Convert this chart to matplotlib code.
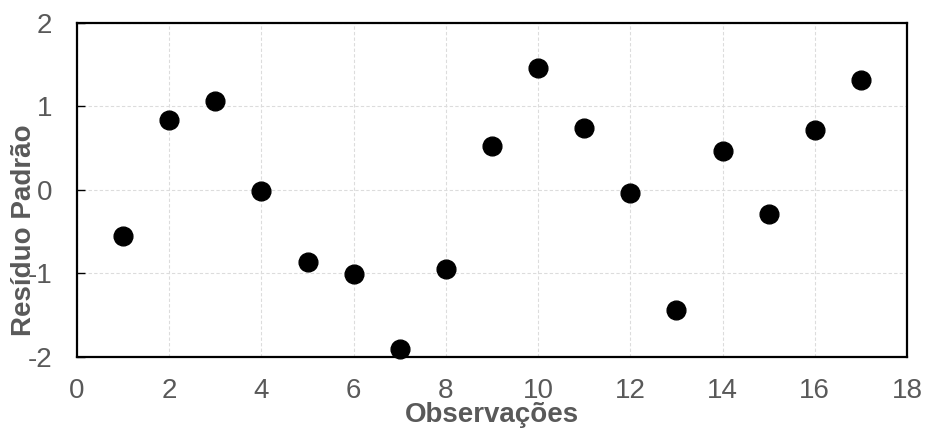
import matplotlib.pyplot as plt

obs = [1, 2, 3, 4, 5, 6, 7, 8, 9, 10, 11, 12, 13, 14, 15, 16, 17]
residuo = [-0.55, 0.84, 1.06, -0.01, -0.86, -1.01, -1.91, -0.95, 0.52,
           1.46, 0.74, -0.04, -1.44, 0.46, -0.29, 0.71, 1.31]
xticks = [0, 2, 4, 6, 8, 10, 12, 14, 16, 18]
yticks = [-2, -1, 0, 1, 2]

plt.rcParams['font.family'] = ['Liberation Sans', 'DejaVu Sans']
plt.rcParams['axes.unicode_minus'] = False
gray = '#595959'

fig = plt.figure(figsize=(9.26, 4.32), dpi=100)
ax = fig.add_axes([0.0832, 0.1736, 0.8963, 0.7743])

ax.plot(obs, residuo, 'o', color='black', markersize=13.5, zorder=5, clip_on=False)

ax.set_xlim(0, 18)
ax.set_ylim(-2, 2)
ax.set_xticks(xticks)
ax.set_yticks(yticks)
ax.grid(True, color='#dcdcdc', linestyle=(0, (3, 2)), linewidth=0.8)
ax.set_axisbelow(True)

for s in ax.spines.values():
    s.set_linewidth(1.6)
    s.set_color('black')

ax.tick_params(axis='x', length=0, pad=15, labelsize=20, labelcolor=gray)
ax.tick_params(axis='y', direction='in', length=6, width=1, pad=18,
               labelsize=20, labelcolor=gray)

ax.set_xlabel('Observações', fontsize=20, fontweight='bold', color=gray, va='baseline')
ax.xaxis.set_label_coords(0.5, -0.195)
ax.set_ylabel('Resíduo Padrão', fontsize=20, fontweight='bold', color=gray, va='baseline')
ax.yaxis.set_label_coords(-0.0554, 0.38)

fig.savefig('out.png', dpi=100)
